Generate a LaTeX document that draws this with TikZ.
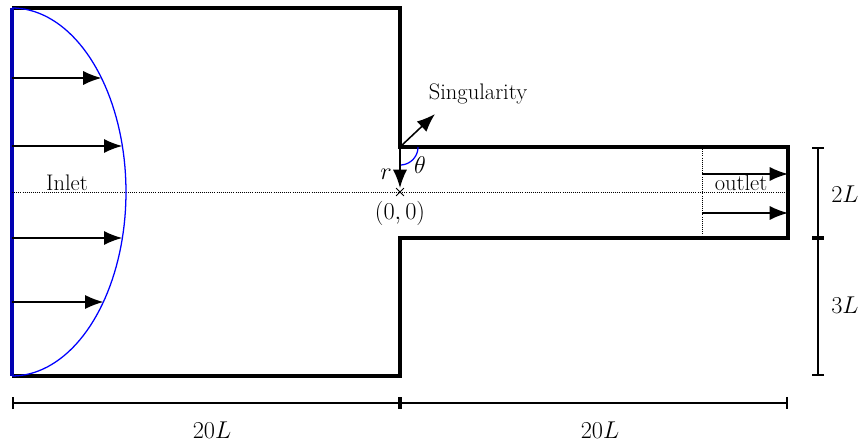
\documentclass[tikz,border=0pt]{standalone}
\usepackage{amsmath}
\usetikzlibrary{arrows.meta, positioning, shapes.misc}

\begin{document}
\begin{tikzpicture}[
		x=0.025cm, y=-0.025cm,
		>={Latex[length=13pt, width=10pt]},
		wall/.style={line width=2.4pt, line join=miter},
		inletwall/.style={line width=2.4pt, blue!70!black},
		profile/.style={blue, line width=0.9pt},
		flow/.style={->, line width=1.1pt},
		axisline/.style={densely dotted, line width=0.5pt},
		dimline/.style={line width=1.1pt, {Bar[width=0.3cm]}-{Bar[width=0.3cm]}},
		lbl/.style={font=\fontsize{16}{19}\selectfont, text=black}
		]
		
		% Frame of the picture
		\useasboundingbox (0,0) rectangle (860,444);
		
		% Corner points of the channel
		\coordinate (tl) at (12,8);
		\coordinate (tm) at (400,8);
		\coordinate (sing) at (400,147);
		\coordinate (tr) at (788,147);
		\coordinate (br) at (788,238);
		\coordinate (step) at (400,238);
		\coordinate (bm) at (400,376);
		\coordinate (bl) at (12,376);
		
		% --- Channel walls ---
		\draw[wall] (bl) -- (bm) -- (step) -- (br) -- (tr) -- (sing) -- (tm) -- (tl);
		\draw[inletwall] (tl) -- (bl);
		
		% Centre line
		\coordinate (cl) at (12,192);
		\coordinate (cr) at (788,192);
		\draw[axisline] (cl) -- (cr);
		
		% --- Inlet profile ---
		\draw[profile] plot[domain=-90:90, samples=80] ({12+114*cos(\x)}, {192+184*sin(\x)});
		\foreach \yy/\xx in {78/101.5, 146/122.3, 238/122.3, 302/103.4} {
			\coordinate (in-a) at (12,\yy);
			\coordinate (in-b) at (\xx,\yy);
			\draw[flow] (in-a) -- (in-b);
		}
		\node[lbl] (inlet) at (67,183) {Inlet};
		
		% --- Singularity at the re-entrant corner ---
		\coordinate (singtip) at (435,114);
		\draw[flow] (sing) -- (singtip);
		\node[lbl] (singtext) at (478,94) {Singularity};
		\draw[blue, line width=0.9pt] plot[domain=0:90, samples=20] ({400+18*cos(\x)}, {147+18*sin(\x)});
		\node[lbl] (theta) at (420,165) {$\theta$};
		
		% Polar coordinates and origin
		\node[cross out, draw, inner sep=0pt, minimum size=5pt, line width=0.6pt] (origin) at (400,192) {};
		\coordinate (rtip) at (400,188);
		\draw[flow] (sing) -- (rtip);
		\node[lbl] (rlabel) at (386,174) {$r$};
		\node[lbl] (orig) at (400,213) {$(0,0)$};
		
		% --- Outlet ---
		\coordinate (outtop) at (702,147);
		\coordinate (outbot) at (702,238);
		\draw[axisline] (outtop) -- (outbot);
		\foreach \yy in {174, 213} {
			\coordinate (out-a) at (702,\yy);
			\coordinate (out-b) at (788,\yy);
			\draw[flow] (out-a) -- (out-b);
		}
		\node[lbl] (outlet) at (741,183) {outlet};
		
		% --- Dimensions ---
		\coordinate (dl) at (12,403);
		\coordinate (dm) at (400,403);
		\coordinate (dr) at (788,403);
		\draw[dimline] (dl) -- (dm);
		\draw[dimline] (dm) -- (dr);
		\node[lbl] (lenA) at (212,430) {$20L$};
		\node[lbl] (lenB) at (600,430) {$20L$};
		
		\coordinate (ht) at (818,147);
		\coordinate (hm) at (818,238);
		\coordinate (hb) at (818,376);
		\draw[dimline] (ht) -- (hm);
		\draw[dimline] (hm) -- (hb);
		\node[lbl] (hA) at (845,194) {$2L$};
		\node[lbl] (hB) at (845,305) {$3L$};
		
	\end{tikzpicture}
\end{document}
